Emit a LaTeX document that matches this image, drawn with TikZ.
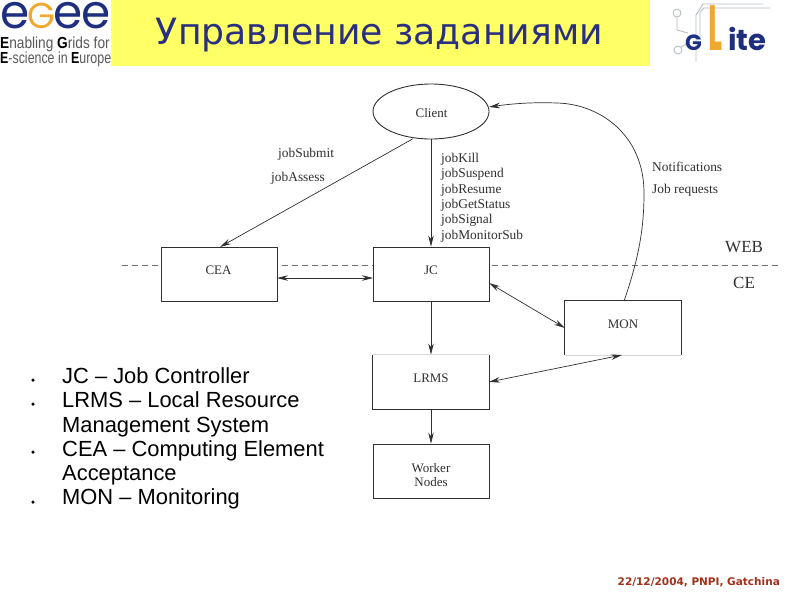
\documentclass[tikz,border=0pt]{standalone}
\usepackage{fontspec}
\usepackage{graphicx}
\usetikzlibrary{arrows.meta,shapes.geometric}
\setmainfont{Liberation Serif}
\newfontfamily\arialf{Liberation Sans}
\newfontfamily\verdf{DejaVu Sans}
\newfontfamily\popf{Poppins}
\definecolor{titleyel}{HTML}{FFFF66}
\definecolor{titleblue}{HTML}{2A2F7F}
\definecolor{logoblue}{HTML}{1E2F80}
\definecolor{logoorange}{HTML}{F0A830}
\definecolor{footred}{HTML}{A03018}
\definecolor{inkc}{HTML}{303030}
\definecolor{circ}{HTML}{B8BEC4}
\tikzset{
 x=1pt,y=-1pt,
 boxn/.style={draw=inkc,line width=0.9pt,fill=white,minimum width=116pt,minimum height=54pt,inner sep=0pt},
 lab/.style={anchor=base west,inner sep=0pt,font=\fontsize{13.4}{15}\selectfont,text=inkc},
 clab/.style={anchor=base,inner sep=0pt,font=\fontsize{13}{15}\selectfont,text=inkc},
 biglab/.style={anchor=base west,inner sep=0pt,font=\fontsize{17}{18}\selectfont,text=inkc},
 conn/.style={draw=inkc,line width=0.7pt,-{Stealth[length=11pt,width=5.5pt]}},
 dconn/.style={draw=inkc,line width=0.7pt,{Stealth[length=11pt,width=5.5pt]}-{Stealth[length=11pt,width=5.5pt]}},
 bul/.style={anchor=base west,inner sep=0pt,font=\arialf\fontsize{21.9}{24}\selectfont,text=black},
 bdot/.style={circle,fill=black,inner sep=0pt,minimum size=3.5pt},
 logol/.style={anchor=base,inner sep=0pt,text=logoblue,font=\popf\fontsize{47}{50}\selectfont},
 tinyl/.style={anchor=base west,inner sep=0pt,text=black!65,font=\arialf\fontsize{16}{18}\selectfont},
 glite/.style={anchor=base west,inner sep=0pt,text=logoblue,font=\popf\bfseries\fontsize{29}{31}\selectfont},
 circl/.style={draw=circ,line width=0.9pt},
}
\begin{document}
\begin{tikzpicture}
\useasboundingbox (0,0) rectangle (794,595);
\fill[white] (0,0) rectangle (794,595);
% header
\fill[titleyel] (111,0) rectangle (650,66);
\node[anchor=base,inner sep=0pt,text=titleblue,font=\verdf\fontsize{36.2}{40}\selectfont] (title) at (379.5,44) {Управление заданиями};
% EGEE logo
\node[logol] (e1) at (15,28) {e};
\node[logol,text=logoorange] (e2) at (42,28) {\fontsize{36}{36}\selectfont G};
\node[logol] (e3) at (68,28) {e};
\node[logol] (e4) at (96,28) {e};
\node[tinyl] (en1) at (0,48) {\scalebox{0.855}[1]{\textcolor{black}{\bfseries E}nabling \textcolor{black}{\bfseries G}rids for}};
\node[tinyl] (en2) at (0,63) {\scalebox{0.775}[1]{\textcolor{black}{\bfseries E}-science in \textcolor{black}{\bfseries E}urope}};
% gLite logo
\draw[circl] (677,13) circle (4);
\draw[circl] (677,17) -- (677,30) -- (688,33);
\draw[circl] (678,50) circle (4);
\draw[circl] (681,47) -- (690,42);
\draw[circl] (696,62) -- (696,15) -- (703,4) -- (763,4);
\draw[circl] (700,40) -- (700,12) -- (704,8) -- (770,8);
\node[glite,font=\popf\bfseries\fontsize{22}{24}\selectfont] (gg) at (685,50) {G};
\node[glite,text=logoorange,font=\popf\bfseries\fontsize{64}{66}\selectfont] (gl) at (708,50) {\scalebox{0.46}[1]{L}};
\node[glite] (gi) at (728,50) {ite};
% dashed line
\draw[draw=inkc!70,line width=0.5pt,dash pattern=on 6pt off 4pt] (122,265) -- (779,265);
% nodes
\node[boxn] (cea) at (219,274) {};
\node[boxn] (jc) at (431,274) {};
\node[boxn,draw=none] (mon) at (623,328) {};
\draw[draw=inkc,line width=0.9pt] (mon.south west) -- (mon.north west) -- (mon.north east) -- (mon.south east);
\node[boxn,draw=none] (lrms) at (431,382) {};
\draw[draw=inkc,line width=0.9pt] (lrms.north west) -- (lrms.south west) -- (lrms.south east) -- (lrms.north east);
\draw[draw=black!15,line width=0.6pt] (lrms.north west) -- (lrms.north east);
\draw[draw=black!15,line width=0.6pt] (mon.south west) -- (mon.south east);
\node[boxn,line width=0.7pt] (wn) at (431,471) {};
\node[draw=inkc,line width=0.9pt,fill=white,ellipse,minimum width=116pt,minimum height=55pt,inner sep=0pt] (cl) at (431,111.5) {};
% box labels
\node[clab] (tcl) at (431.5,117) {Client};
\node[clab] (tcea) at (218.5,274) {CEA};
\node[clab] (tjc) at (431,274) {JC};
\node[clab] (tmon) at (623,328) {MON};
\node[clab] (tlr) at (431,382) {LRMS};
\node[clab] (tw1) at (431,472) {Worker};
\node[clab] (tw2) at (431,486) {Nodes};
% named ends
\coordinate (clsw) at (412.5,139);
\coordinate (ceat) at (220,247);
\coordinate (ceae) at (277,278);
\coordinate (jcw) at (373,278);
\coordinate (jce) at (489,283);
\coordinate (monw) at (565,328);
\coordinate (lre) at (489,382);
\coordinate (monb) at (622,355);
\coordinate (mont) at (624,301);
\coordinate (cle) at (489,107);
% connectors
\draw[conn] (clsw) -- (ceat);
\draw[conn] (cl.south) -- (jc.north);
\draw[dconn] (ceae) -- (jcw);
\draw[dconn] (jce) -- (monw);
\draw[conn] (jc.south) -- (lrms.north);
\draw[dconn] (lre) -- (monb);
\draw[conn] (lrms.south) -- (wn.north);
\draw[conn] (mont) .. controls (640,255) and (644,225) .. (644,193) .. controls (644,135) and (600,104) .. (557,103) .. controls (530,102) and (510,104) .. (cle);
% labels
\node[lab] (a1) at (278,157) {jobSubmit};
\node[lab] (a2) at (271,181) {jobAssess};
\node[lab] (k1) at (441,162) {jobKill};
\node[lab] (k2) at (441,177) {jobSuspend};
\node[lab] (k3) at (441,193) {jobResume};
\node[lab] (k4) at (441,208) {jobGetStatus};
\node[lab] (k5) at (441,223) {jobSignal};
\node[lab] (k6) at (441,239) {jobMonitorSub};
\node[lab] (n1) at (652,171) {Notifications};
\node[lab] (n2) at (652,193) {Job requests};
\node[biglab] (web) at (725,252) {WEB};
\node[biglab] (ce) at (733,288) {CE};
% bullets
\node[bdot] (b1) at (33,380) {};
\node[bdot] (b2) at (33,404) {};
\node[bdot] (b3) at (33,452) {};
\node[bdot] (b4) at (33,502) {};
\node[bul] (t1) at (62,383) {JC – Job Controller};
\node[bul] (t2) at (62,407) {LRMS – Local Resource};
\node[bul] (t2b) at (62,432) {Management System};
\node[bul] (t3) at (62,456) {CEA – Computing Element};
\node[bul] (t3b) at (62,480) {Acceptance};
\node[bul] (t4) at (62,504) {MON – Monitoring};
% footer
\node[anchor=base east,inner sep=0pt,text=footred,font=\verdf\bfseries\fontsize{10.5}{12}\selectfont] (foot) at (780,585) {22/12/2004, PNPI, Gatchina};
\end{tikzpicture}
\end{document}
